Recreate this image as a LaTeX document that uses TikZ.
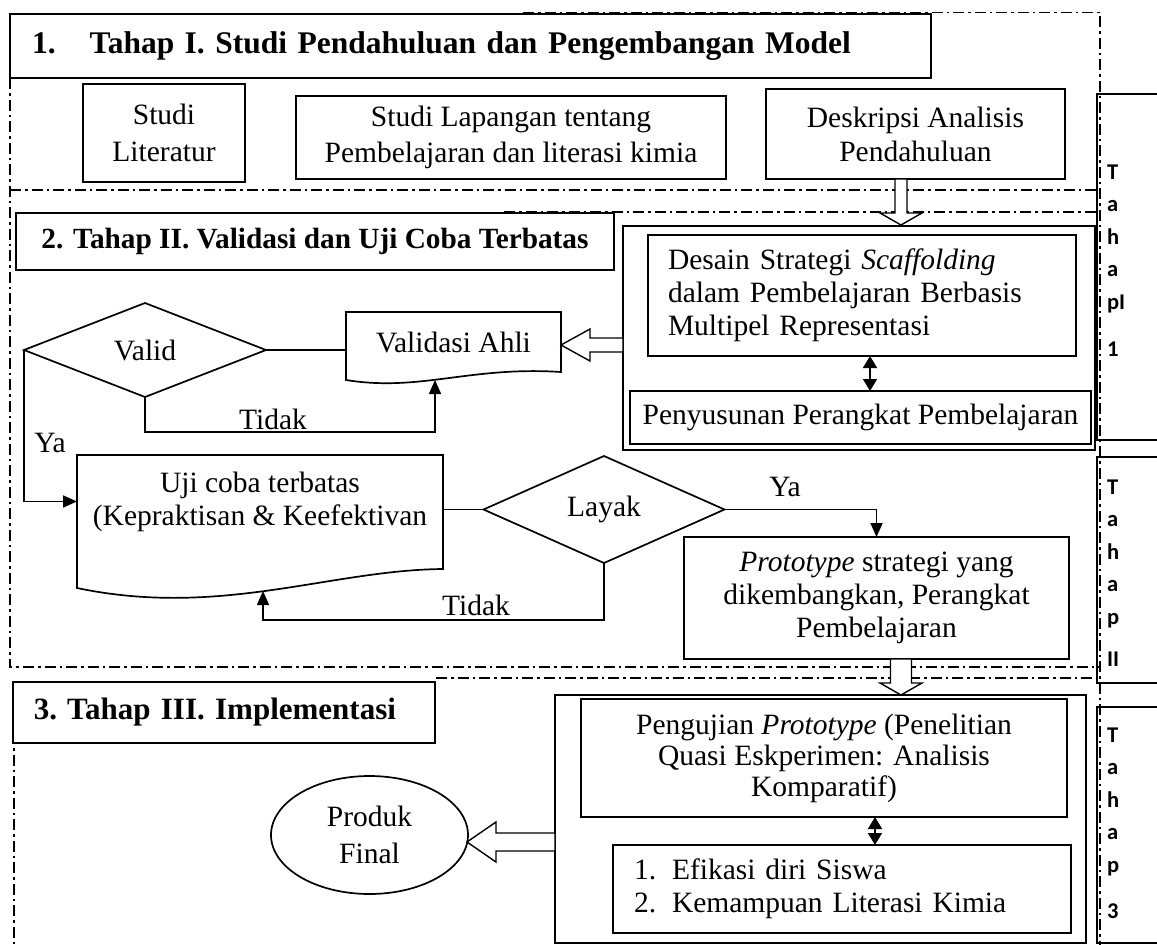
\documentclass[tikz,border=0pt]{standalone}
\usepackage{fontspec}
\setmainfont{Liberation Serif}
\newfontfamily\calfont{Carlito}
\usetikzlibrary{arrows.meta,shapes.geometric,calc}
\newcommand\bodyfont{\fontsize{29.5}{33}\selectfont}
\begin{document}
\begin{tikzpicture}[x=1pt,y=-1pt,
  every node/.style={inner sep=0pt, outer sep=0pt},
  box/.style={draw, line width=1.7pt, fill=white, align=center, font=\bodyfont},
  ttl/.style={draw, line width=1.7pt, fill=white, align=left, font=\bfseries\fontsize{31.5}{36}\selectfont},
  frm/.style={line width=1.4pt, dash pattern=on 11pt off 4pt on 2.5pt off 4pt},
  con/.style={line width=1.7pt},
  arr/.style={con, -{Triangle[length=14pt,width=12pt]}},
  dbl/.style={con, {Triangle[length=12pt,width=14pt]}-{Triangle[length=12pt,width=14pt]}},
  open/.style={draw, line width=1.4pt, fill=white, line join=miter},
  tbox/.style={draw, line width=1.7pt, minimum width=80},
  tletters/.style={font=\calfont\bfseries\fontsize{22.5}{32.5}\selectfont, align=left, anchor=north west},
  lbl/.style={font=\bodyfont},
  dec/.style={draw, line width=1.7pt, fill=white, font=\bodyfont}
]
\useasboundingbox (0,0) rectangle (1157,945);
\clip (0,0) rectangle (1157,945);

% dash-dot frames
\draw[frm] (523,12.5) -- (1100,12.5) -- (1100,945);
\draw[frm] (10,78) -- (10,667) -- (1100,667);
\draw[frm] (10,190) -- (1097,190);
\draw[frm] (504,212) -- (1097,212);
\draw[frm] (436,678) -- (1097,678);
\draw[frm] (14,690) -- (14,945);

% ---------- Stage I ----------
\node[ttl, minimum width=921, minimum height=64, text width=877, inner xsep=22] (t1) at (470.5,46)
  {1.\hspace{34pt}Tahap I. Studi Pendahuluan dan Pengembangan Model};
\node[box, minimum width=162, minimum height=98, font=\fontsize{29.5}{37}\selectfont] (lit) at (164,133) {Studi\\Literatur};
\node[box, minimum width=430, minimum height=83, font=\fontsize{29.5}{36}\selectfont] (lap) at (511,137.5) {Studi Lapangan tentang\\Pembelajaran dan literasi kimia};
\node[box, minimum width=299, minimum height=90, font=\fontsize{29.5}{34}\selectfont] (desk) at (915.5,134) {Deskripsi Analisis\\Pendahuluan};

% ---------- Stage II ----------
\node[ttl, font=\bfseries\fontsize{29.3}{33}\selectfont, minimum width=598, minimum height=57] (t2) at (315,241.5)
  {2. Tahap II. Validasi dan Uji Coba Terbatas};

\node[box, minimum width=472, minimum height=224] (dsout) at (859,338) {};
\node[box, minimum width=428, minimum height=121, align=left, text width=388, inner xsep=20] (desain) at (862,295.5)
  {Desain Strategi \textit{Scaffolding}\\dalam Pembelajaran Berbasis\\Multipel Representasi};
\node[box, minimum width=461, minimum height=53] (peny) at (860.5,417.5) {Penyusunan Perangkat Pembelajaran};
\coordinate (dA) at ([xshift=8pt]desain.south);
\draw[dbl] (dA) -- (dA |- peny.north);

% open arrow from Deskripsi down to design box
\coordinate (da) at ([xshift=-14.5pt]desk.south);
\draw[open] (da) ++(-6,0) -- ++(0,34) -- ++(-15,0) -- ++(21,12) -- ++(21,-12) -- ++(-15,0) -- ++(0,-34) -- cycle;

% Valid decision
\node[dec, diamond, minimum width=242, minimum height=94] (valid) at (145,350) {Valid};
\node[font=\bodyfont, minimum width=215, minimum height=60] (val) at (453.5,342) {Validasi Ahli};
\draw[con] (val.north west) -- (val.north east) -- ($(val.north east)+(0,60)$)
  .. controls ($(val.north east)+(-91,54)$) and ($(val.north west)+(74,80)$) .. ($(val.north west)+(0,68)$) -- cycle;
\draw[con] (valid.east) -- (valid.east -| val.west);

% open arrow from design box to Validasi Ahli
\coordinate (la) at ([yshift=-7pt]dsout.west);
\draw[open] (la) ++(0,-7) -- ++(-33,0) -- ++(0,-9) -- ++(-29,16) -- ++(29,16) -- ++(0,-9) -- ++(33,0) -- cycle;

\coordinate (tidA) at (145,432);
\coordinate (vB) at (435,380);
\draw[arr] (valid.south) -- (tidA) -- (tidA -| vB) -- (vB);
\node[lbl] (tid1) at (273,419) {Tidak};
\node[lbl] (ya1) at (50,443) {Ya};

% Uji coba
\node[font=\bodyfont, align=center, minimum width=366, minimum height=93] (uji) at (260,501.5)
  {Uji coba terbatas\\(Kepraktisan \& Keefektivan};
\draw[con] (uji.north west) -- (uji.north east) -- ($(uji.north east)+(0,114)$)
  .. controls ($(uji.north east)+(-113,115)$) and ($(uji.north west)+(143,163)$) .. ($(uji.north west)+(0,133)$) -- cycle;
\draw[arr] (valid.west) |- (uji.west);

\node[dec, diamond, minimum width=241, minimum height=107] (layak) at (604,509.5) {Layak};
\draw[con] (layak.west) -- (layak.west -| uji.east);

\node[box, minimum width=385, minimum height=122] (proto) at (876.5,598)
  {\textit{Prototype} strategi yang\\dikembangkan, Perangkat\\Pembelajaran};
\draw[arr] (layak.east) -| (proto.north);
\node[lbl] (ya2) at (785,487) {Ya};

\coordinate (tidB) at (604,620);
\coordinate (uB) at (263,591);
\draw[arr] (layak.south) -- (tidB) -- (tidB -| uB) -- (uB);
\node[lbl] (tid2) at (476,605) {Tidak};

% open arrow from prototype down
\coordinate (pa) at ([xshift=24.5pt]proto.south);
\draw[open] (pa) ++(-10.5,0) -- ++(0,24) -- ++(-10.5,0) -- ++(21,12) -- ++(21,-12) -- ++(-10.5,0) -- ++(0,-24) -- cycle;

% ---------- Stage III ----------
\node[ttl, font=\bfseries\fontsize{31}{35}\selectfont, minimum width=422, minimum height=61, text width=380, inner xsep=21] (t3) at (224,712.5)
  {3.\hspace{10pt}Tahap III. Implementasi};

\node[box, minimum width=531, minimum height=248] (t3out) at (820.5,819) {};
\node[box, minimum width=486, minimum height=118, font=\fontsize{29.5}{31}\selectfont] (peng) at (824,758)
  {Pengujian \textit{Prototype} (Penelitian\\Quasi Eskperimen: Analisis\\Komparatif)};
\node[box, minimum width=458, minimum height=88, align=left, text width=416, inner xsep=21] (efi) at (842,889)
  {\makebox[38pt][l]{1.}Efikasi diri Siswa\\\makebox[38pt][l]{2.}Kemampuan Literasi Kimia};
\coordinate (pA) at ([xshift=51pt]peng.south);
\draw[dbl] (pA) -- (pA |- efi.north);

\node[dec, ellipse, align=center, minimum width=197, minimum height=118, font=\fontsize{29.5}{37}\selectfont] (produk) at (369.5,835) {Produk\\Final};
\coordinate (pra) at ([yshift=-23pt]t3out.west);
\draw[open] (pra) ++(0,-9) -- ++(-59,0) -- ++(0,-11) -- ++(-29,20) -- ++(29,20) -- ++(0,-11) -- ++(59,0) -- cycle;

% ---------- side labels ----------
\node[tbox, minimum height=346] (tp1) at (1137,267) {};
\node[tbox, minimum height=226] (tp2) at (1137,570) {};
\node[tbox, minimum height=236] (tp3) at (1137,825) {};
\node[tletters] (tp1t) at (1107,164.5) {T\\a\\h\\a\\pI\\[15pt]1};
\node[tletters] (tp2t) at (1107,479.5) {T\\a\\h\\a\\p\\[10pt]II};
\node[tletters] (tp3t) at (1107,727.5) {T\\a\\h\\a\\p\\[14pt]3};
\end{tikzpicture}
\end{document}
